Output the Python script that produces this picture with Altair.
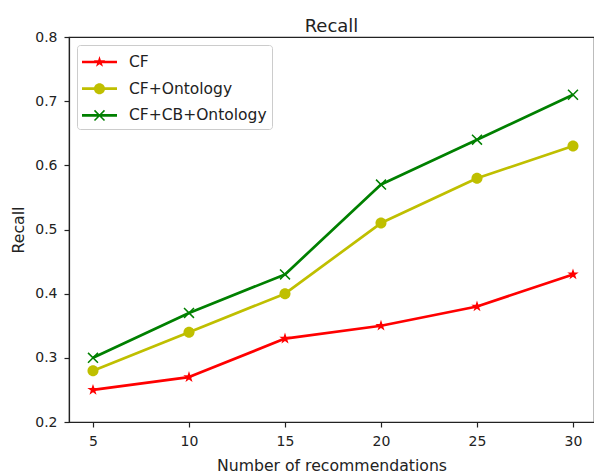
import math
import altair as alt
import pandas as pd

# ---- data ----
x_values = [5, 10, 15, 20, 25, 30]
series_names = ["CF", "CF+Ontology", "CF+CB+Ontology"]
cf = [0.25, 0.27, 0.33, 0.35, 0.38, 0.43]
cf_onto = [0.28, 0.34, 0.40, 0.51, 0.58, 0.63]
cf_cb_onto = [0.30, 0.37, 0.43, 0.57, 0.64, 0.71]
y_ticks = [0.2, 0.3, 0.4, 0.5, 0.6, 0.7, 0.8]

colors = ["#ff0000", "#bfbf00", "#008000"]
FONT = "DejaVu Sans"
TEXT = "#222222"

rows = []
for name, vals in zip(series_names, [cf, cf_onto, cf_cb_onto]):
    for xv, yv in zip(x_values, vals):
        rows.append({"n": xv, "recall": yv, "series": name})
df = pd.DataFrame(rows)


# ---- marker geometry (style only) ----
def f(v):
    return f"{v:.3f}"


def star_path(cx, R):
    pts = []
    for k in range(10):
        ang = math.radians(-90 + 36 * k)
        r = R if k % 2 == 0 else R * 0.382
        pts.append((cx + r * math.cos(ang), r * math.sin(ang)))
    return "M" + " L".join(f"{f(x)},{f(y)}" for x, y in pts) + " Z"


def circle_path(cx, r):
    return (f"M{f(cx - r)},0 A{f(r)},{f(r)} 0 1,1 {f(cx + r)},0 "
            f"A{f(r)},{f(r)} 0 1,1 {f(cx - r)},0 Z")


def x_path(cx, h, w):
    a = w / math.sqrt(2)
    p1 = [(cx - h + a, -h - a), (cx + h + a, h - a), (cx + h - a, h + a), (cx - h - a, -h + a)]
    p2 = [(cx + h + a, -h + a), (cx - h + a, h + a), (cx - h - a, h - a), (cx + h - a, -h - a)]
    s = ""
    for poly in (p1, p2):
        s += "M" + " L".join(f"{f(x)},{f(y)}" for x, y in poly) + " Z "
    return s.strip()


def line_path(x0, x1, t):
    return f"M{f(x0)},{f(-t)} L{f(x1)},{f(-t)} L{f(x1)},{f(t)} L{f(x0)},{f(t)} Z"


plot_shapes = [star_path(0, 1.0), circle_path(0, 0.92), x_path(0, 0.83, 0.125)]
lc = 0.458
legend_shapes = [
    line_path(-1, 1.917, 0.1125) + " " + star_path(lc, 0.5),
    line_path(-1, 1.917, 0.1125) + " " + circle_path(lc, 0.46),
    line_path(-1, 1.917, 0.1125) + " " + x_path(lc, 0.417, 0.0625),
]

x_enc = alt.X(
    "n:Q",
    scale=alt.Scale(domain=[3.75, 31.094], nice=False, zero=False),
    axis=alt.Axis(values=x_values, title="Number of recommendations", format="d"),
)
y_enc = alt.Y(
    "recall:Q",
    scale=alt.Scale(domain=[0.2, 0.8], nice=False, zero=False),
    axis=alt.Axis(values=y_ticks, title="Recall", format=".1f"),
)
color_scale = alt.Scale(domain=series_names, range=colors)

base = alt.Chart(df)

lines = base.mark_line(strokeWidth=2.7, strokeJoin="round").encode(
    x=x_enc, y=y_enc,
    color=alt.Color("series:N", scale=color_scale, legend=None),
    detail="series:N",
)

points = base.mark_point(filled=True, opacity=1, size=144, strokeWidth=0).encode(
    x=x_enc, y=y_enc,
    color=alt.Color("series:N", scale=color_scale, legend=None),
    shape=alt.Shape("series:N", scale=alt.Scale(domain=series_names, range=plot_shapes), legend=None),
)

legend_layer = base.transform_filter("false").mark_point(
    filled=True, opacity=1, size=576, strokeWidth=0
).encode(
    x=x_enc, y=y_enc,
    color=alt.Color("series:N", scale=color_scale,
                    legend=alt.Legend(title=None)),
    shape=alt.Shape("series:N", scale=alt.Scale(domain=series_names, range=legend_shapes),
                    legend=alt.Legend(title=None)),
)

chart = (
    alt.layer(lines, points, legend_layer)
    .resolve_scale(color="independent", shape="independent")
    .properties(
        width=525,
        height=385,
        autosize="none",
        padding={"left": 69, "top": 37, "right": 0, "bottom": 53},
        title=alt.TitleParams(
            "Recall", fontSize=18, font=FONT, fontWeight="normal", color=TEXT,
            anchor="middle", baseline="alphabetic", offset=-20, frame="group",
        ),
    )
    .configure_view(stroke="#222222", strokeWidth=1.2)
    .configure_axis(
        grid=False,
        domainColor="#222222",
        domainWidth=1.2,
        tickColor="#222222",
        tickWidth=1.2,
        tickSize=5,
        labelFont=FONT,
        labelFontSize=14,
        labelColor=TEXT,
        titleFont=FONT,
        titleFontSize=15.7,
        titleFontWeight="normal",
        titleColor=TEXT,
    )
    .configure_axisX(labelPadding=7, titlePadding=10, labelFlush=False)
    .configure_axisY(labelPadding=7, titlePadding=8)
    .configure_legend(
        orient="top-left",
        offset=8,
        padding=5,
        rowPadding=5.7,
        labelOffset=23,
        symbolSize=576,
        symbolStrokeWidth=0,
        symbolOpacity=1,
        strokeColor="#cccccc",
        fillColor="white",
        cornerRadius=3,
        labelFont=FONT,
        labelFontSize=15.5,
        labelColor=TEXT,
    )
)

chart.save("out.html", embed_options={"renderer": "svg", "actions": False})
